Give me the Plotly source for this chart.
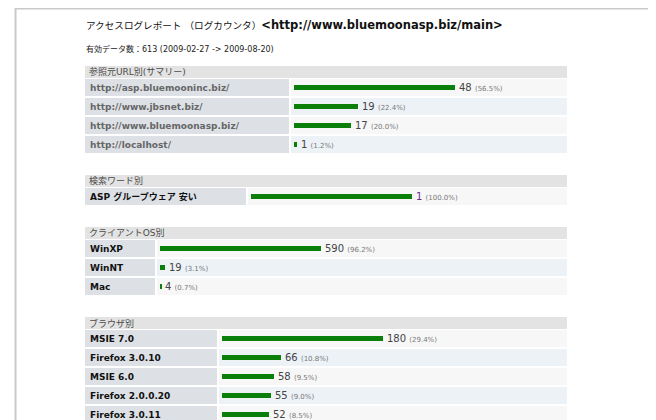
import plotly.graph_objects as go

# ---------------- data ----------------
page_title_jp = "アクセスログレポート （ログカウンタ）"
page_title_url = "&lt;http://www.bluemoonasp.biz/main&gt;"
subtitle = "有効データ数：613 (2009-02-27 -&gt; 2009-08-20)"

sec_titles = ["参照元URL別(サマリー)", "検索ワード別", "クライアントOS別", "ブラウザ別"]

ref_labels = ["http://asp.bluemooninc.biz/", "http://www.jbsnet.biz/",
              "http://www.bluemoonasp.biz/", "http://localhost/"]
ref_values = [48, 19, 17, 1]
ref_pcts = ["56.5%", "22.4%", "20.0%", "1.2%"]

kw_labels = ["ASP グループウェア 安い"]
kw_values = [1]
kw_pcts = ["100.0%"]

os_labels = ["WinXP", "WinNT", "Mac"]
os_values = [590, 19, 4]
os_pcts = ["96.2%", "3.1%", "0.7%"]

br_labels = ["MSIE 7.0", "Firefox 3.0.10", "MSIE 6.0", "Firefox 2.0.0.20", "Firefox 3.0.11"]
br_values = [180, 66, 58, 55, 52]
br_pcts = ["29.4%", "10.8%", "9.5%", "9.0%", "8.5%"]

sections = [
    (ref_labels, ref_values, ref_pcts),
    (kw_labels, kw_values, kw_pcts),
    (os_labels, os_values, os_pcts),
    (br_labels, br_values, br_pcts),
]

# ---------------- layout constants ----------------
PAGE_W, PAGE_H = 656, 420
OFF = 8  # default body margin of the html page
W, H = PAGE_W - OFF, PAGE_H - OFF
FONT = "DejaVu Sans, Noto Sans CJK JP, sans-serif"
TABLE_L, TABLE_R = 85, 567
HEADER_TOPS = [66, 175, 227, 317]
HEADER_H = 12
PITCH = 19
ROW_H = 17
LABEL_R = [289, 246, 155, 217]
BAR_MAX_PX = 161
LABEL_COLORS = ["#666666", "#111111", "#111111", "#111111"]
VALUE_COLORS = ["#444444", "#6a2a8a", "#444444", "#444444"]
ROW_COLORS = ["#f7f7f7", "#edf2f7"]


def px(x):
    return (x - OFF) / W


def py(y):
    return 1 - (y - OFF) / H


fig = go.Figure()
shapes = []
annotations = []

# page frame
shapes.append(dict(type="line", xref="paper", yref="paper", x0=px(15), x1=1.0,
                   y0=py(8.5), y1=py(8.5), line=dict(color="#c9c9c9", width=2)))
shapes.append(dict(type="line", xref="paper", yref="paper", x0=px(15.5), x1=px(15.5),
                   y0=py(8), y1=0, line=dict(color="#c9c9c9", width=2)))

# titles
annotations.append(dict(
    xref="paper", yref="paper", x=px(84), y=py(25), xanchor="left", yanchor="middle",
    showarrow=False,
    text=f"<span style='font-size:9.6px'>{page_title_jp}</span><b>{page_title_url}</b>",
    font=dict(family=FONT, size=11.5, color="#111111")))
annotations.append(dict(
    xref="paper", yref="paper", x=px(84), y=py(49), xanchor="left", yanchor="middle",
    showarrow=False, text=subtitle, font=dict(family=FONT, size=8, color="#222222")))

for k, ((labels, values, pcts), htop) in enumerate(zip(sections, HEADER_TOPS), start=1):
    xa = "x" if k == 1 else f"x{k}"
    ya = "y" if k == 1 else f"y{k}"
    xl = "xaxis" if k == 1 else f"xaxis{k}"
    yl = "yaxis" if k == 1 else f"yaxis{k}"
    n = len(labels)
    lr = LABEL_R[k - 1]
    bx = lr + 5

    # header band
    shapes.append(dict(type="rect", xref="paper", yref="paper", layer="below",
                       x0=px(TABLE_L), x1=px(TABLE_R), y0=py(htop), y1=py(htop + HEADER_H),
                       fillcolor="#e3e3e3", line=dict(width=0)))
    annotations.append(dict(xref="paper", yref="paper", x=px(TABLE_L + 2),
                            y=py(htop + HEADER_H / 2), xanchor="left", yanchor="middle",
                            showarrow=False, text=sec_titles[k - 1],
                            font=dict(family=FONT, size=9, color="#4a4a4a")))

    # axes
    first_top = htop + HEADER_H + 1
    y_top = first_top - 1
    y_bot = min(y_top + n * PITCH, PAGE_H)
    span = (y_bot - y_top) / PITCH
    fig.update_layout({
        xl: dict(domain=[px(bx), px(bx + BAR_MAX_PX)], range=[0, max(values)],
                 visible=False, anchor=ya, fixedrange=True),
        yl: dict(domain=[max(py(y_bot), 0), py(y_top)], range=[-0.5 + span, -0.5],
                 type="category", categoryorder="array", categoryarray=labels,
                 visible=False, anchor=xa, fixedrange=True),
    })

    # cells
    g = (PITCH - ROW_H) / PITCH / 2
    for i in range(n):
        shapes.append(dict(type="rect", xref="paper", yref=ya, layer="below",
                           x0=px(TABLE_L), x1=px(lr), y0=i - 0.5 + g, y1=i + 0.5 - g,
                           fillcolor="#dde1e6", line=dict(width=0)))
        shapes.append(dict(type="rect", xref="paper", yref=ya, layer="below",
                           x0=px(lr + 2), x1=px(TABLE_R), y0=i - 0.5 + g, y1=i + 0.5 - g,
                           fillcolor=ROW_COLORS[i % 2], line=dict(width=0)))
        annotations.append(dict(xref="paper", yref=ya, x=px(TABLE_L + 3), y=labels[i],
                                xanchor="left", yanchor="middle", showarrow=False,
                                text=f"<b>{labels[i]}</b>",
                                font=dict(family=FONT, size=9, color=LABEL_COLORS[k - 1])))
        annotations.append(dict(xref=xa, yref=ya, x=values[i], y=labels[i],
                                xanchor="left", yanchor="middle", showarrow=False, xshift=2,
                                text=(f"{values[i]} <span style='font-size:7px;color:#777777'>"
                                      f"({pcts[i]})</span>"),
                                font=dict(family=FONT, size=10, color=VALUE_COLORS[k - 1])))

    fig.add_trace(go.Bar(x=values, y=labels, orientation="h", xaxis=xa, yaxis=ya,
                         width=0.26, marker=dict(color="#0a800a", line=dict(width=0)),
                         hoverinfo="skip", showlegend=False))

fig.update_layout(width=W, height=H, margin=dict(l=0, r=0, t=0, b=0),
                  paper_bgcolor="white", plot_bgcolor="rgba(0,0,0,0)",
                  shapes=shapes, annotations=annotations, showlegend=False,
                  bargap=0)

fig.write_html("out.html")
